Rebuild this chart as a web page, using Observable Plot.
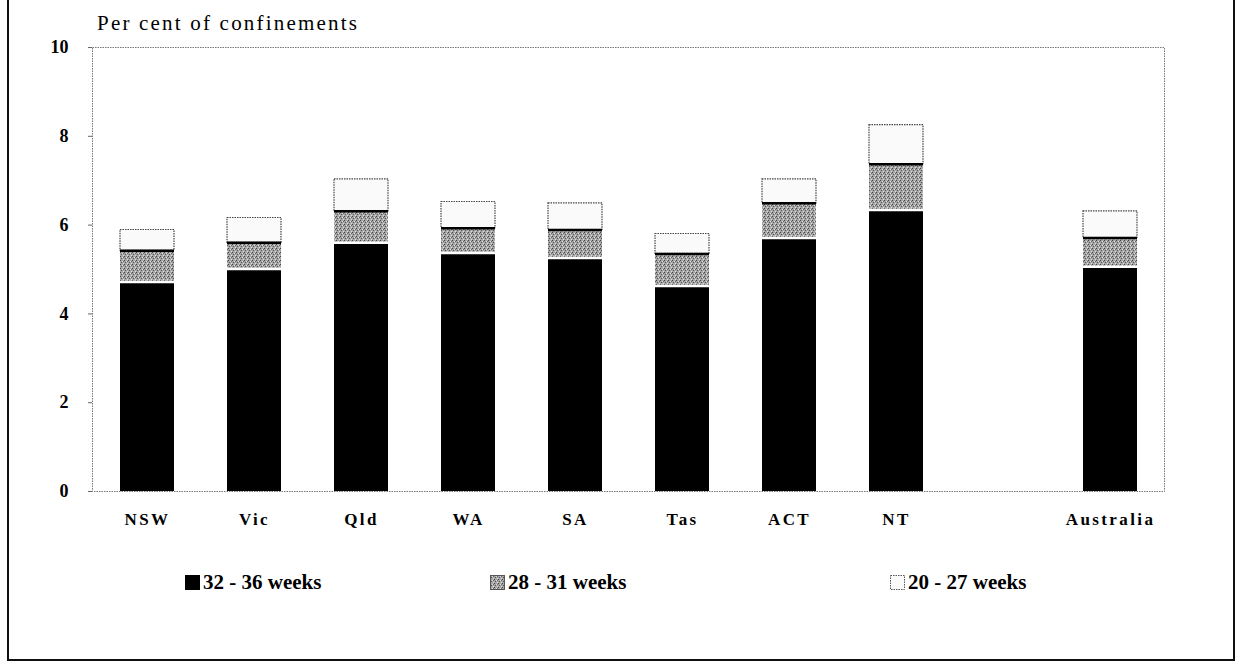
<!DOCTYPE html>
<html><head><meta charset="utf-8">
<script src="https://cdn.jsdelivr.net/npm/d3@7"></script>
<script src="https://cdn.jsdelivr.net/npm/@observablehq/plot@0.6"></script>
<style>
body{margin:0;background:#fff;}
#wrap{position:relative;width:1239px;height:664px;overflow:hidden;font-family:"Liberation Serif","Times New Roman",serif;color:#000;}
#border{position:absolute;left:7px;top:-4px;width:1228px;height:665px;border:2px solid #111;box-sizing:border-box;}
#title{position:absolute;left:97px;top:11px;font-size:21px;letter-spacing:2.2px;white-space:nowrap;}
#legend{position:absolute;top:570px;left:0;width:1239px;height:30px;font-size:21px;font-weight:bold;}
.li{position:absolute;display:flex;align-items:center;white-space:nowrap;}
.li svg{margin-right:3px;}
#chart svg [aria-label="x-axis tick label"] text{letter-spacing:2.4px;}
</style></head><body>
<svg width="0" height="0" style="position:absolute">
 <defs>
  <pattern id="grain" width="4" height="4" patternUnits="userSpaceOnUse">
   <rect width="4" height="4" fill="#a6a6a6"/>
   <rect x="0" y="0" width="1" height="1" fill="#444"/>
   <rect x="2" y="1" width="1" height="1" fill="#e0e0e0"/>
   <rect x="1" y="2" width="1" height="1" fill="#555"/>
   <rect x="3" y="3" width="1" height="1" fill="#ddd"/>
   <rect x="3" y="1" width="1" height="1" fill="#666"/>
  </pattern>
 </defs>
</svg>
<div id="wrap">
 <div id="chart"></div>
 <div id="title"></div>
 <div id="legend"></div>
 <div id="border"></div>
</div>
<script>
// ---- data ----
const states = ["NSW","Vic","Qld","WA","SA","Tas","ACT","NT"," ","Australia"];
const w32_36 = [4.72,5.01,5.60,5.37,5.26,4.63,5.71,6.34,null,5.06];
const w28_31 = [0.70,0.59,0.71,0.56,0.63,0.72,0.78,1.03,null,0.65];
const w20_27 = [0.47,0.56,0.72,0.59,0.60,0.45,0.54,0.88,null,0.60];
const seriesNames = ["32 - 36 weeks","28 - 31 weeks","20 - 27 weeks"];
const yTicks = [0,2,4,6,8,10];
const yTitle = "Per cent of confinements";

// ---- build stacked segments ----
const seriesVals = [w32_36, w28_31, w20_27];
const segs = seriesNames.map(() => []);
states.forEach((s, i) => {
  let base = 0;
  seriesVals.forEach((arr, k) => {
    const v = arr[i];
    if (v == null) return;
    segs[k].push({state: s, y1: base, y2: base + v});
    base += v;
  });
});

const chart = Plot.plot({
  width: 1239, height: 664,
  marginLeft: 92, marginRight: 75, marginTop: 47, marginBottom: 173,
  style: {fontFamily: '"Liberation Serif","Times New Roman",serif', background: "transparent", color: "#000", overflow: "visible"},
  x: {domain: states, paddingInner: 0.5, paddingOuter: 0.25, label: null},
  y: {domain: [0, 10], label: null},
  marks: [
    Plot.frame({stroke: "#777", strokeDasharray: "1.5,1", strokeWidth: 1}),
    Plot.barY(segs[0], {x: "state", y1: "y1", y2: "y2", fill: "#000", inset: 0}),
    Plot.barY(segs[1], {x: "state", y1: "y1", y2: "y2", fill: "url(#grain)", inset: 0}),
    Plot.barY(segs[2], {x: "state", y1: "y1", y2: "y2", fill: "#fafafa", stroke: "#444", strokeDasharray: "1.5,1", strokeWidth: 1.2, inset: 0}),
    Plot.tickY(segs[0], {x: "state", y: "y2", stroke: "#fff", strokeWidth: 2.5}),
    Plot.tickY(segs[1], {x: "state", y: "y2", stroke: "#000", strokeWidth: 2.5}),
    Plot.axisY({ticks: yTicks, tickSize: 4, tickPadding: 20, fontSize: 18, fontWeight: "bold", stroke: "#666"}),
    Plot.axisX({tickSize: 0, tickPadding: 21, fontSize: 17, fontWeight: "bold", tickFormat: d => d.trim()})
  ]
});
document.getElementById("chart").appendChild(chart);
document.getElementById("title").textContent = yTitle;

// ---- legend ----
const legendX = [185, 490, 890];
const swatchFill = ["#000", "url(#grain)", "#fafafa"];
const swatchStroke = ["#000", "#555", "#555"];
const leg = document.getElementById("legend");
seriesNames.forEach((name, k) => {
  const d = document.createElement("div");
  d.className = "li";
  d.style.left = legendX[k] + "px";
  d.innerHTML = `<svg width="15" height="15"><rect x="0.5" y="0.5" width="14" height="14" fill="${swatchFill[k]}" stroke="${swatchStroke[k]}" stroke-dasharray="${k===2?'1.5,1':'none'}"/></svg><span></span>`;
  d.querySelector("span").textContent = name;
  leg.appendChild(d);
});
</script>
</body></html>
